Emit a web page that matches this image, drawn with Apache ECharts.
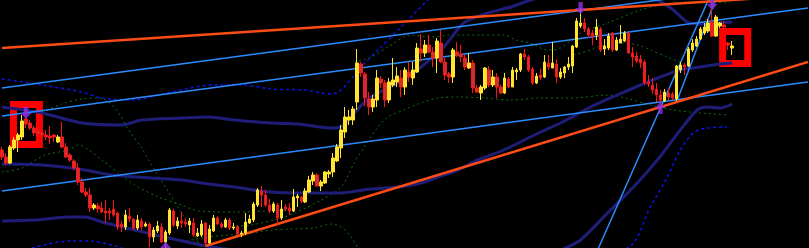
<!DOCTYPE html>
<html><head><meta charset="utf-8">
<script src="https://cdn.jsdelivr.net/npm/echarts@6/dist/echarts.min.js"></script>
<style>html,body{margin:0;padding:0;background:#000;}#c{width:809px;height:248px;}</style>
</head><body><div id="c"></div>
<script>
// ---- candle values (price units) ----
const openV = [
98,91,85,100,108,111,129,125,120,117,
115,113,112,113,106,111,101,93,87,80,
66,56,53,40,42,40,37,37,39,35,
24,21,32,29,20,27,22,24,11,17,
21,6,15,37,22,27,26,23,25,12,
13,25,5,17,30,24,21,28,20,21,
14,15,25,28,43,57,53,43,37,43,
30,41,40,37,50,51,46,56,67,73,
62,65,74,76,87,100,116,128,128,146,
184,174,149,141,148,169,165,148,163,166,
170,161,176,170,176,199,195,203,196,190,
205,186,174,171,196,194,190,180,185,160,
155,160,178,163,171,161,155,169,161,176,
178,194,191,179,165,173,171,185,180,184,
171,175,181,182,201,222,225,219,215,213,
219,199,200,215,198,205,207,215,195,192,
189,186,166,163,159,153,147,155,154,149,
178,183,182,198,202,209,215,217,226,212,
222,223,205,200];
const closeV = [
91,85,101,108,113,127,124,120,115,114,
113,111,110,111,111,101,91,88,80,66,
56,53,40,43,39,36,35,35,33,21,
21,33,29,20,28,21,24,11,18,22,
6,16,38,23,27,25,24,27,13,15,
24,5,19,30,24,21,28,20,21,14,
15,26,29,44,58,53,43,37,44,30,
39,39,37,51,52,47,57,68,73,62,
66,76,76,90,101,118,131,131,139,185,
175,150,141,149,170,165,148,166,168,172,
161,178,171,178,200,195,203,196,190,207,
186,173,171,198,193,191,181,185,160,156,
161,180,163,171,161,155,170,161,178,178,
194,191,178,165,172,170,186,181,185,171,
176,181,184,202,227,225,219,213,211,221,
198,202,212,198,208,209,215,195,191,187,
185,165,164,158,153,148,156,151,150,182,
183,181,199,205,209,219,221,225,212,231,
225,221,203,202];
const lowV = [
88,83,84,98,96,108,120,118,112,111,
110,108,104,106,105,100,90,86,78,63,
55,51,36,38,35,35,25,28,31,18,
16,18,26,18,18,18,21,1,6,15,
5,0,13,21,19,20,21,15,11,11,
11,3,4,16,23,20,20,18,18,13,
11,13,24,26,41,41,41,35,35,23,
28,37,33,36,41,45,45,55,63,61,
57,64,70,71,86,90,110,123,123,138,
171,142,133,136,141,160,141,145,161,161,
151,153,166,163,175,186,191,195,181,175,
185,168,165,165,191,186,178,179,155,155,
148,158,161,161,150,154,154,160,161,168,
176,188,176,163,164,168,170,178,180,165,
169,170,178,175,200,220,216,210,203,208,
196,193,198,196,197,205,206,194,181,185,
180,163,161,154,146,144,146,148,148,147,
175,173,181,196,201,208,213,215,211,211,
220,219,198,193];
const highV = [
101,95,103,111,115,133,138,128,122,120,
118,118,122,114,113,126,105,95,89,85,
70,60,60,45,45,46,48,40,48,36,
27,38,40,30,33,30,26,26,21,27,
25,18,40,39,31,36,30,30,30,20,
28,26,23,33,32,26,30,30,25,23,
17,35,33,46,60,62,58,49,46,45,
48,44,45,59,54,52,60,72,76,75,
68,77,78,95,104,123,141,138,142,199,
186,176,156,153,178,172,168,170,190,181,
178,181,186,186,205,214,208,213,201,210,
218,190,176,200,206,203,193,195,188,163,
163,181,182,178,175,163,175,171,181,180,
195,199,193,181,175,179,193,193,206,189,
180,182,191,203,230,240,230,221,218,229,
221,209,215,216,211,223,217,216,201,196,
193,188,173,170,165,158,159,160,156,183,
186,185,201,209,212,221,225,229,246,233,
226,227,206,207];

// ---- overlay lines: [bar index, price] ----
const trendOrangeUpper = [[0,200],[202,253]];
const trendOrangeLower = [[51,2],[202,186]];
const trendBlue1 = [[0,160],[202,268]];
const trendBlue2 = [[0,132],[202,240]];
const trendBlue3 = [[0,57],[202,166]];
const trendBlueSteep1 = [[149.5,0],[177,248]];
const trendBlueSteep2 = [[169.25,148],[178.75,248]];

const navyUpper = [[0,141],[10,135],[20,125],[30,123],[35,128],[45,130],[51.75,131],[58.25,128],[67.5,125],[74.25,124],[82.5,120],[85,121],[88.25,135],[92.5,151],[100.75,168],[105,181],[110.75,201],[115.75,225],[121.75,235],[127.5,241],[132.5,248],[140,256],[150,260],[157.5,256],[164.25,248],[168.25,238],[171.75,226],[175,224],[179.25,225],[183,226]];
const navyMiddle = [[0,84],[10,83],[20.75,78],[27.5,73],[37.5,70],[45,68],[50,65],[58.25,61],[67.5,56],[75.75,55],[84.25,55],[92.5,59],[99.25,61],[105,65],[109.25,71],[114.25,78],[119.25,88],[125.75,98],[135,116],[140,125],[147.5,141],[154.25,153],[160,163],[165,171],[170,178],[175,181],[180,184],[183,185]];
const navyLower = [[0,27],[8.25,28],[16.75,31],[20.75,31],[25,26],[33.25,18],[41.75,10],[50,3],[54.25,0],[65,-6],[80,-14],[100,-20],[120,-18],[135,-10],[141.25,0],[145,8],[151.75,35],[158.25,61],[164.25,88],[170,118],[174.25,138],[176.75,141],[180,140],[183,144]];

const dotBlueUpper = [[0,169],[10,163],[20,156],[25,150],[32.5,148],[42.5,156],[52.5,163],[60,163],[67.5,159],[75.75,158],[82.5,154],[85,158],[90,181],[95,201],[100,221],[104.25,238],[106.75,248],[115,268],[130,278]];
const dotBlueLower = [[7.5,0],[16.75,7],[21.75,7],[27.5,3],[30,0],[60,-30],[120,-40],[156.75,0],[162.5,41],[166.75,71],[170,98],[173.25,115],[176.75,120],[181.75,121]];

const greenArc = [[10,136],[15,144],[20,149],[24.25,150],[26.75,146],[29.25,135],[31.75,118],[35,100],[38.25,78],[41.75,56],[45,35],[47.5,18],[50,0]];
const greenLeft = [[0,76],[5,80],[10.75,93],[16.75,98],[19.25,103],[21.75,98],[25,88],[29.25,75],[33.25,63],[39.25,51],[45,43],[49.25,37],[58.25,36],[67.5,37],[71.25,38]];
const greenLower = [[57.5,22],[62.5,23],[70.75,31],[75,38],[80,48],[85,61],[88.25,85],[90.75,101],[94.25,121],[96.75,131],[100.75,138],[105,145],[109.25,150],[115,151],[120.75,150],[127.5,148],[135,150],[143.25,150],[151.75,153],[156.25,150],[162.5,143],[168.25,138],[175,135],[181.75,133]];
const greenDip = [[45,6],[51.75,11],[62.5,15],[67.5,18],[72.5,19],[78.25,20],[82.5,24],[85,21],[87.5,11],[89.25,0]];
const greenUpper = [[88.25,186],[92.5,191],[96.75,201],[102.5,213],[107.5,211],[112.5,213],[120,213],[125.75,213],[128.75,208],[132.5,205],[136.75,198],[140,200],[145,215],[151.75,225],[160,238],[165,243],[172.5,246],[182.5,245]];
const greenMid = [[143.25,193],[147.5,198],[150,202],[155,205],[159.25,203],[162.5,198],[166.75,191],[170,186]];

const boxes = [[[2.875,143.5],[9.375,103.5]],[[180.6,216.5],[186.9,184.5]]];
const arrowsDown = [[6,135],[145,240],[178,244]];
const arrowsUp = [[41,0],[165,140]];

const N_SLOTS = 202;
const categories = [];
for (let i = 0; i < N_SLOTS; i++) categories.push(String(i + 1));
const candles = openV.map((o, i) => [o, closeV[i], lowV[i], highV[i]]);

const chart = echarts.init(document.getElementById('c'), null, {renderer: 'canvas'});
function lineS(data, color, width, type, smooth, z) {
  return {type: 'line', xAxisIndex: 1, data: data, symbol: 'none', smooth: smooth, z: z || 2,
    lineStyle: {color: color, width: width, type: type}, silent: true, animation: false};
}
const arrowDownPath = 'path://M3,0 L7,0 L7,6 L10,6 L5,12 L0,6 L3,6 Z';
const arrowUpPath = 'path://M5,0 L10,6 L7,6 L7,12 L3,12 L3,6 L0,6 Z';
const G = '#107012';
chart.setOption({
  backgroundColor: '#000000',
  animation: false,
  grid: {left: -2, right: 3, top: 0, bottom: 0},
  xAxis: [
    {type: 'category', data: categories, boundaryGap: true, show: false},
    {type: 'value', min: -0.5, max: N_SLOTS - 0.5, show: false}
  ],
  yAxis: {type: 'value', min: 0, max: 248, show: false},
  series: [
    lineS(greenArc, G, 1, [2, 3], 0.3, 1),
    lineS(greenLeft, G, 1, [2, 3], 0.3, 1),
    lineS(greenLower, G, 1, [2, 3], 0.3, 1),
    lineS(greenDip, G, 1, [2, 3], 0.3, 1),
    lineS(greenUpper, G, 1, [2, 3], 0.3, 1),
    lineS(greenMid, G, 1, [2, 3], 0.3, 1),
    lineS(dotBlueUpper, '#0a14e6', 1.5, [3, 3], 0.3, 1),
    lineS(dotBlueLower, '#0a14e6', 1.5, [3, 3], 0.3, 1),
    lineS(navyUpper, '#1e1e78', 3, 'solid', 0.3, 2),
    lineS(navyMiddle, '#1e1e78', 3, 'solid', 0.3, 2),
    lineS(navyLower, '#1e1e78', 3, 'solid', 0.3, 2),
    lineS(trendBlue1, '#2a8cff', 1.5, 'solid', false, 3),
    lineS(trendBlue2, '#2a8cff', 1.5, 'solid', false, 3),
    lineS(trendBlue3, '#2a8cff', 1.5, 'solid', false, 3),
    lineS(trendBlueSteep1, '#2a8cff', 1.5, 'solid', false, 3),
    lineS(trendBlueSteep2, '#2a8cff', 1.5, 'solid', false, 3),
    lineS(trendOrangeUpper, '#ff4b14', 2.5, 'solid', false, 3),
    lineS(trendOrangeLower, '#ff4b14', 2.5, 'solid', false, 3),
    {
      type: 'candlestick', xAxisIndex: 0, data: candles, barWidth: 3, z: 5,
      itemStyle: {color: '#ffe52e', color0: '#c8303a', borderColor: '#ffe52e', borderColor0: '#ff1414', borderWidth: 1},
      silent: true
    },
    {
      type: 'line', xAxisIndex: 1, data: [], symbol: 'none', z: 6, silent: true,
      markArea: {silent: true,
        itemStyle: {color: 'rgba(0,0,0,0)', borderColor: '#ff0000', borderWidth: 7},
        data: boxes.map(b => [{coord: b[0]}, {coord: b[1]}])}
    },
    {type: 'scatter', xAxisIndex: 1, data: arrowsDown, symbol: arrowDownPath, symbolSize: [11, 12], z: 7,
      itemStyle: {color: '#8f2ee6'}, silent: true},
    {type: 'scatter', xAxisIndex: 1, data: arrowsUp, symbol: arrowUpPath, symbolSize: [11, 12], z: 7,
      itemStyle: {color: '#8f2ee6'}, silent: true}
  ]
});
</script></body></html>
